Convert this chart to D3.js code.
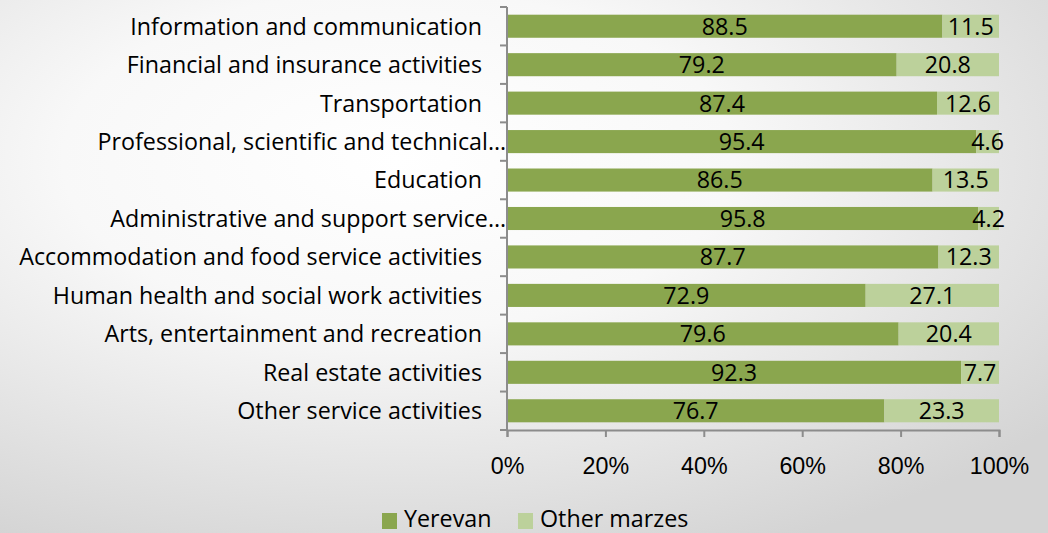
<!DOCTYPE html>
<html>
<head>
<meta charset="utf-8">
<script src="https://cdn.jsdelivr.net/npm/d3@7"></script>
<style>
	html, body { margin: 0; padding: 0; }
	body { width: 1048px; height: 533px; overflow: hidden; }
	svg { display: block; font-family: "Open Sans", "Noto Sans", sans-serif; }
</style>
</head>
<body>
<div id="chart"></div>
<script>
// data
const categories = [
	"Information and communication",
	"Financial and insurance activities",
	"Transportation",
	"Professional, scientific and technical…",
	"Education",
	"Administrative and support service…",
	"Accommodation and food service activities",
	"Human health and social work activities",
	"Arts, entertainment and recreation",
	"Real estate activities",
	"Other service activities"
];
const yerevan = [88.5, 79.2, 87.4, 95.4, 86.5, 95.8, 87.7, 72.9, 79.6, 92.3, 76.7];
const otherMarzes = [11.5, 20.8, 12.6, 4.6, 13.5, 4.2, 12.3, 27.1, 20.4, 7.7, 23.3];
const seriesNames = ["Yerevan", "Other marzes"];
const seriesColors = ["#8aa64e", "#bcd19b"];
const xTicks = [0, 20, 40, 60, 80, 100];

const width = 1048, height = 533;
const margin = {left: 507, right: 49, top: 7, bottom: 103};

const svg = d3.select("#chart").append("svg")
	.attr("width", width)
	.attr("height", height);

// pick a font size so the widest category label spans the same width as in the original
const probe = svg.append("text").attr("font-size", 20).text(categories[6]);
const fontSize = Math.min(24, 20 * 463 / probe.node().getComputedTextLength());
probe.remove();

// background, white in the middle fading to grey at the edges
const defs = svg.append("defs");
const grad = defs.append("radialGradient")
	.attr("id", "bg")
	.attr("cx", "38%").attr("cy", "30%").attr("r", "80%");
grad.append("stop").attr("offset", "0%").attr("stop-color", "#ffffff");
grad.append("stop").attr("offset", "40%").attr("stop-color", "#f8f8f8");
grad.append("stop").attr("offset", "100%").attr("stop-color", "#d4d4d4");
svg.append("rect").attr("width", width).attr("height", height).attr("fill", "url(#bg)");

const x = d3.scaleLinear().domain([0, 100]).range([margin.left, width - margin.right]);
const y = d3.scaleBand().domain(categories).range([margin.top, height - margin.bottom]).paddingInner(0.4).paddingOuter(0.2);
const yOuter = d3.scaleBand().domain(categories).range([margin.top, height - margin.bottom]);

const rows = categories.map((c, i) => ({cat: c, values: [yerevan[i], otherMarzes[i]]}));
const stacked = d3.stack().keys([0, 1]).value((d, k) => d.values[k])(rows);

const g = svg.append("g");
stacked.forEach((layer, k) => {
	const lg = g.append("g");
	lg.selectAll("rect")
		.data(layer).enter()
		.append("rect")
		.attr("x", d => x(d[0]))
		.attr("y", d => y(d.data.cat))
		.attr("width", d => x(d[1]) - x(d[0]))
		.attr("height", y.bandwidth())
		.attr("fill", seriesColors[k]);
	lg.selectAll("text")
		.data(layer).enter()
		.append("text")
		.attr("x", d => (x(d[0]) + x(d[1])) / 2)
		.attr("y", d => y(d.data.cat) + y.bandwidth() / 2)
		.attr("dy", "0.36em")
		.attr("text-anchor", "middle")
		.attr("font-size", fontSize)
		.attr("fill", "#000")
		.text(d => d3.format(".1f")(d[1] - d[0]));
});

// y axis: line with ticks at category boundaries
const axisColor = "#8c8c8c";
const yAxis = svg.append("g");
yAxis.append("line")
	.attr("x1", x(0)).attr("x2", x(0))
	.attr("y1", margin.top).attr("y2", height - margin.bottom)
	.attr("stroke", axisColor).attr("stroke-width", 2);
const bounds = categories.map(c => yOuter(c)).concat([height - margin.bottom]);
yAxis.selectAll(".yt")
	.data(bounds).enter()
	.append("line")
	.attr("x1", x(0) - 7).attr("x2", x(0))
	.attr("y1", d => d).attr("y2", d => d)
	.attr("stroke", axisColor).attr("stroke-width", 2);
yAxis.selectAll(".ylab")
	.data(categories).enter()
	.append("text")
	.attr("class", "ylab")
	.attr("x", x(0) - 25)
	.attr("y", d => y(d) + y.bandwidth() / 2)
	.attr("dy", "0.36em")
	.attr("text-anchor", "end")
	.attr("font-size", fontSize)
	.attr("fill", "#000")
	.text(d => d);
// truncated labels run right up to the axis
yAxis.selectAll(".ylab")
	.filter(d => d.endsWith("…"))
	.attr("x", x(0) - 1);

// x axis
const xAxis = svg.append("g")
	.attr("transform", "translate(0," + (height - margin.bottom) + ")")
	.call(d3.axisBottom(x).tickValues(xTicks).tickSize(7).tickPadding(20).tickFormat(d => d + "%"));
xAxis.select(".domain").attr("stroke", axisColor).attr("stroke-width", 2);
xAxis.selectAll(".tick line").attr("stroke", axisColor).attr("stroke-width", 2);
xAxis.selectAll(".tick text").attr("font-size", fontSize).attr("fill", "#000").attr("font-family", null);

// legend
const legend = svg.append("g").attr("transform", "translate(382," + 519 + ")");
const legendX = [0, 136];
seriesNames.forEach((name, k) => {
	legend.append("rect")
		.attr("x", legendX[k]).attr("y", -6)
		.attr("width", 15).attr("height", 16)
		.attr("fill", seriesColors[k]);
	legend.append("text")
		.attr("x", legendX[k] + 22).attr("y", 0)
		.attr("dy", "0.36em")
		.attr("font-size", fontSize)
		.attr("fill", "#000")
		.text(name);
});
</script>
</body>
</html>
